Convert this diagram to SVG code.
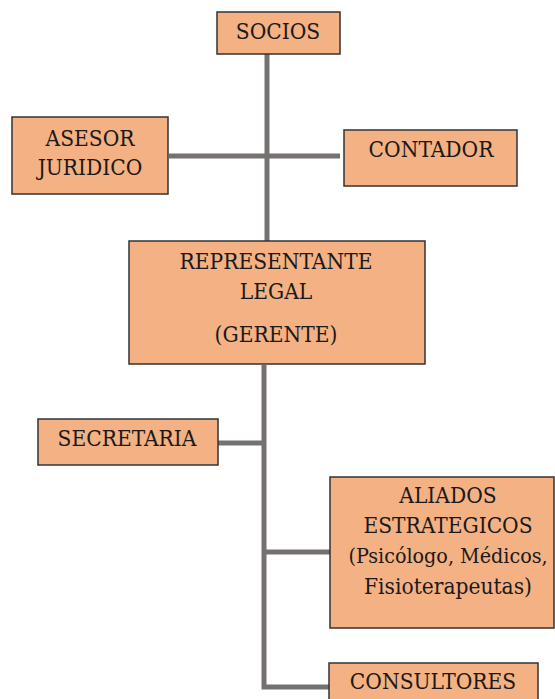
<svg xmlns="http://www.w3.org/2000/svg" width="555" height="699" viewBox="0 0 555 699">
<style>
.box{fill:#F4B183;stroke:#333;stroke-width:1.5}
.t{font-family:'DejaVu Serif Condensed','DejaVu Serif',serif;font-size:22.5px;fill:#1a1a1a;text-anchor:middle}
.s{font-size:21.3px}
.c{stroke:#767171;stroke-width:5;fill:none}
</style>
<rect width="555" height="699" fill="#fff"/>
<g id="connectors">
<line class="c" x1="267" y1="54" x2="267" y2="241"/>
<line class="c" x1="169" y1="156" x2="340" y2="156"/>
<polyline class="c" points="264,365 264,687 329,687"/>
<line class="c" x1="218" y1="443" x2="264" y2="443"/>
<line class="c" x1="264" y1="552" x2="330" y2="552"/>
</g>
<g id="socios"><rect class="box" x="217" y="12" width="123" height="42"/><text class="t" x="278" y="39">SOCIOS</text></g>
<g id="asesor"><rect class="box" x="12" y="117" width="156" height="77"/><text class="t" x="90" y="146">ASESOR</text><text class="t" x="90" y="175">JURIDICO</text></g>
<g id="contador"><rect class="box" x="344" y="130" width="173" height="56"/><text class="t" x="431" y="157">CONTADOR</text></g>
<g id="representante"><rect class="box" x="129" y="241" width="296" height="123"/><text class="t" x="276" y="269">REPRESENTANTE</text><text class="t" x="276" y="299">LEGAL</text><text class="t" x="276" y="342">(GERENTE)</text></g>
<g id="secretaria"><rect class="box" x="38" y="419" width="180" height="46"/><text class="t" x="127" y="446">SECRETARIA</text></g>
<g id="aliados"><rect class="box" x="330" y="477" width="224" height="151"/><text class="t" x="448" y="503">ALIADOS</text><text class="t" x="448" y="533">ESTRATEGICOS</text><text class="t s" x="448" y="563">(Psicólogo, Médicos,</text><text class="t" x="448" y="594">Fisioterapeutas)</text></g>
<g id="consultores"><rect class="box" x="329" y="663" width="209" height="45"/><text class="t" x="433" y="689">CONSULTORES</text></g>
</svg>
